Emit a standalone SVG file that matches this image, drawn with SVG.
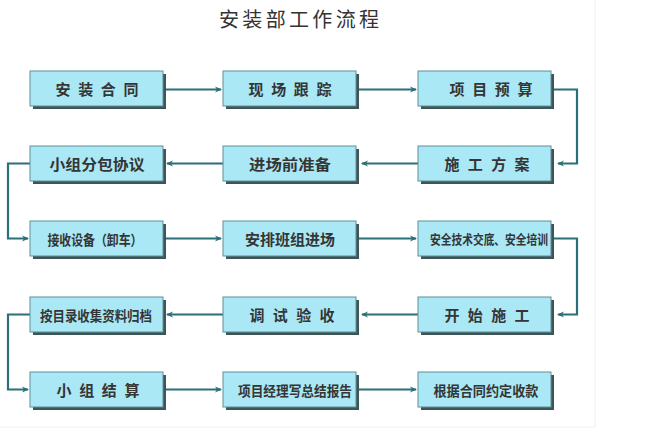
<svg xmlns="http://www.w3.org/2000/svg" width="671" height="437" viewBox="0 0 671 437">
<defs>
<style>
.sh{fill:#3e5558}
.bx{fill:#a9e8f4;stroke:#5f8f98;stroke-width:1}
.lb{font-family:"Noto Sans CJK SC","Liberation Sans",sans-serif;font-size:15px;font-weight:bold;fill:#353535;text-anchor:middle;dominant-baseline:central}
.sm{font-size:14px}
.xs{font-size:13px}
.cn{fill:none;stroke:#2b6f79;stroke-width:2.2;marker-end:url(#ah)}
.tt{font-family:"Noto Sans CJK SC","Liberation Serif",serif;font-size:20px;fill:#333333;text-anchor:middle}
</style>
<marker id="ah" markerWidth="8" markerHeight="8" refX="6" refY="4" orient="auto" markerUnits="userSpaceOnUse">
<path d="M0,1 L7,4 L0,7 L2,4 Z" fill="#2b6f79"/>
</marker>
<g id="box">
<rect class="sh" x="3" y="3" width="133" height="35"/>
<rect class="bx" x="0" y="0" width="133" height="35"/>
</g>
</defs>
<rect x="0" y="0" width="671" height="437" fill="#ffffff"/>
<path d="M595,0 V427 H0" fill="none" stroke="#efefef" stroke-width="1"/>
<text class="tt" x="299" y="27" textLength="160" lengthAdjust="spacing">安装部工作流程</text>

<g id="connectors">
<path class="cn" d="M164,89.5 H221"/>
<path class="cn" d="M357,89.5 H416"/>
<path class="cn" d="M552,89.5 H577 V163.5 H558"/>
<path class="cn" d="M418,163.5 H362"/>
<path class="cn" d="M223,163.5 H167"/>
<path class="cn" d="M30,163.5 H8 V238.5 H28"/>
<path class="cn" d="M164,238.5 H221"/>
<path class="cn" d="M357,238.5 H416"/>
<path class="cn" d="M552,238.5 H577 V314.5 H558"/>
<path class="cn" d="M418,314.5 H362"/>
<path class="cn" d="M223,314.5 H167"/>
<path class="cn" d="M30,314.5 H8 V389.5 H28"/>
<path class="cn" d="M164,389.5 H221"/>
<path class="cn" d="M357,389.5 H416"/>
</g>

<g id="n1"><use href="#box" x="30" y="71"/><text class="lb" x="97" y="88.5" textLength="83" lengthAdjust="spacing">安 装 合 同</text></g>
<g id="n2"><use href="#box" x="223" y="71"/><text class="lb" x="290" y="88.5" textLength="83" lengthAdjust="spacing">现 场 跟 踪</text></g>
<g id="n3"><use href="#box" x="418" y="71"/><text class="lb" x="491" y="88.5" textLength="83" lengthAdjust="spacing">项 目 预 算</text></g>

<g id="n4"><use href="#box" x="30" y="146"/><text class="lb" x="97" y="163.5" textLength="95" lengthAdjust="spacingAndGlyphs">小组分包协议</text></g>
<g id="n5"><use href="#box" x="223" y="146"/><text class="lb" x="290" y="163.5" textLength="82" lengthAdjust="spacingAndGlyphs">进场前准备</text></g>
<g id="n6"><use href="#box" x="418" y="146"/><text class="lb" x="487" y="163.5" textLength="85" lengthAdjust="spacing">施 工 方 案</text></g>

<g id="n7"><use href="#box" x="30" y="221"/><text class="lb sm" x="95" y="238.5" textLength="95" lengthAdjust="spacingAndGlyphs">接收设备（卸车）</text></g>
<g id="n8"><use href="#box" x="223" y="221"/><text class="lb" x="290" y="238.5" textLength="90" lengthAdjust="spacingAndGlyphs">安排班组进场</text></g>
<g id="n9"><use href="#box" x="418" y="221"/><text class="lb xs" x="489" y="238.5" textLength="118" lengthAdjust="spacingAndGlyphs">安全技术交底、安全培训</text></g>

<g id="n10"><use href="#box" x="30" y="297"/><text class="lb sm" x="96" y="314.5" textLength="112" lengthAdjust="spacingAndGlyphs">按目录收集资料归档</text></g>
<g id="n11"><use href="#box" x="223" y="297"/><text class="lb" x="292" y="314.5" textLength="85" lengthAdjust="spacing">调 试 验 收</text></g>
<g id="n12"><use href="#box" x="418" y="297"/><text class="lb" x="487" y="314.5" textLength="85" lengthAdjust="spacing">开 始 施 工</text></g>

<g id="n13"><use href="#box" x="30" y="372"/><text class="lb" x="98" y="389.5" textLength="83" lengthAdjust="spacing">小 组 结 算</text></g>
<g id="n14"><use href="#box" x="223" y="372"/><text class="lb sm" x="295" y="389.5" textLength="114" lengthAdjust="spacingAndGlyphs">项目经理写总结报告</text></g>
<g id="n15"><use href="#box" x="418" y="372"/><text class="lb sm" x="486" y="389.5" textLength="105" lengthAdjust="spacingAndGlyphs">根据合同约定收款</text></g>
</svg>
